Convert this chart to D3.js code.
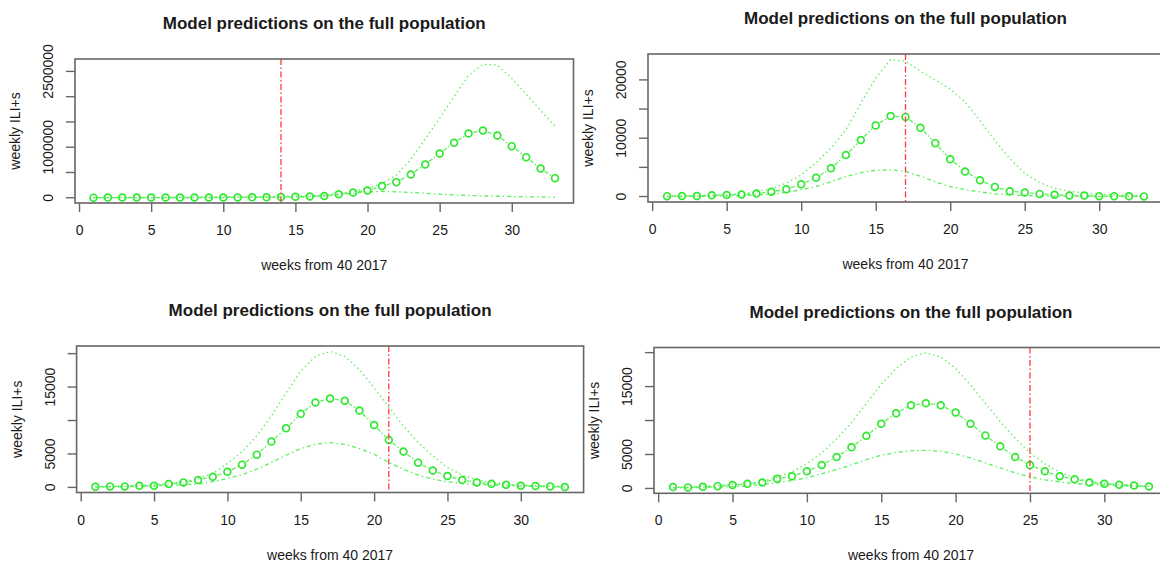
<!DOCTYPE html>
<html>
<head>
<meta charset="utf-8">
<script src="https://cdn.jsdelivr.net/npm/d3@7"></script>
<style>
  body { margin: 0; background: #fff; }
  text { font-family: "Liberation Sans", Arial, sans-serif; fill: #1a1a1a; }
</style>
</head>
<body>
<svg id="chart" width="1160" height="564"></svg>
<script>
'use strict';

// weeks counted from week 40 of 2017
const weeks = [1, 2, 3, 4, 5, 6, 7, 8, 9, 10, 11, 12, 13, 14, 15, 16, 17,
               18, 19, 20, 21, 22, 23, 24, 25, 26, 27, 28, 29, 30, 31, 32, 33];
const xTicks = [0, 5, 10, 15, 20, 25, 30];
const cutWeeks = [14, 17, 21, 25];

const titleText = "Model predictions on the full population";
const xLabelText = "weeks from 40 2017";
const yLabelText = "weekly ILI+s";

// panel 1 (top left)
const p1Mean = [2000, 2500, 3000, 3000, 3500, 4000, 4500, 5000, 5500, 6000, 7000, 8000, 10000, 13000, 20000, 24000, 33000,
                70000, 105000, 144000, 230000, 309000, 461000, 659000, 876000, 1088000, 1272000, 1332000, 1233000, 1021000, 803000, 580000, 388000];
const p1Upper = [4000, 5000, 6000, 7000, 8000, 9000, 10000, 12000, 13000, 15000, 17000, 20000, 23000, 27000, 32000, 38000, 52000,
                 80000, 120000, 190000, 280000, 450000, 760000, 1160000, 1575000, 2000000, 2420000, 2640000, 2625000, 2365000, 2050000, 1725000, 1417000];
const p1Lower = [1500, 2000, 2500, 2500, 3000, 3000, 3500, 4000, 4500, 5000, 6000, 7000, 9000, 11000, 15000, 22000, 35000,
                 60000, 90000, 115000, 125000, 118000, 105000, 88000, 70000, 55000, 45000, 37000, 30000, 24000, 19000, 15000, 12000];

// panel 2 (top right)
const p2Mean = [60, 80, 100, 200, 250, 350, 500, 800, 1250, 2100, 3200, 4850, 7100, 9700, 12200, 13800, 13650,
                11800, 9150, 6400, 4300, 2800, 1650, 900, 700, 450, 300, 170, 170, 60, 60, 30, 20];
const p2Upper = [50, 80, 120, 200, 300, 500, 800, 1400, 2300, 3700, 5800, 8300, 11400, 16000, 20300, 23500, 23200,
                 21500, 20000, 18400, 16200, 13000, 9600, 6500, 4000, 2400, 1400, 900, 600, 420, 300, 230, 170];
const p2Lower = [0, 0, 30, 50, 100, 150, 250, 400, 700, 1150, 1700, 2550, 3400, 4100, 4500, 4570, 4300,
                 3500, 2500, 1700, 1200, 800, 450, 300, 170, 100, 80, 60, 50, 40, 30, 20, 10];

// panel 3 (bottom left)
const p3Mean = [100, 150, 150, 250, 250, 500, 750, 1100, 1600, 2350, 3400, 4900, 6850, 8830, 11000, 12700, 13300,
                12950, 11500, 9330, 7100, 5360, 3700, 2530, 1690, 1100, 750, 550, 400, 250, 200, 150, 50];
const p3Upper = [100, 150, 200, 300, 400, 600, 850, 1340, 2080, 3570, 5300, 7700, 10660, 14130, 17360, 19590, 20330,
                 19590, 17600, 14880, 12050, 9170, 6700, 4710, 2980, 1840, 1140, 750, 500, 350, 250, 200, 150];
const p3Lower = [50, 80, 100, 150, 200, 300, 400, 500, 850, 1340, 1880, 2730, 3720, 4810, 5800, 6450, 6700,
                 6450, 5800, 4960, 3720, 2730, 1840, 1240, 850, 600, 450, 350, 250, 200, 150, 100, 50];

// panel 4 (bottom right)
const p4Mean = [200, 150, 250, 340, 490, 680, 880, 1420, 1800, 2540, 3460, 4640, 6050, 7760, 9520, 11080, 12250,
                12540, 12250, 11180, 9520, 7810, 6200, 4640, 3460, 2540, 1800, 1370, 880, 680, 540, 440, 290];
const p4Upper = [150, 200, 300, 400, 600, 680, 1070, 1660, 2440, 3660, 5220, 7270, 9710, 12540, 15320, 17670, 19370,
                 19960, 19370, 17670, 15230, 12540, 9860, 7420, 5220, 3610, 2390, 1610, 1070, 730, 540, 390, 290];
const p4Lower = [80, 100, 150, 200, 250, 350, 590, 830, 1170, 1560, 2150, 2780, 3460, 4250, 4880, 5320, 5560,
                 5610, 5470, 5080, 4490, 3760, 3030, 2290, 1710, 1270, 980, 730, 590, 490, 390, 340, 290];

const panelSeries = [
  {mean: p1Mean, upper: p1Upper, lower: p1Lower, cut: cutWeeks[0]},
  {mean: p2Mean, upper: p2Upper, lower: p2Lower, cut: cutWeeks[1]},
  {mean: p3Mean, upper: p3Upper, lower: p3Lower, cut: cutWeeks[2]},
  {mean: p4Mean, upper: p4Upper, lower: p4Lower, cut: cutWeeks[3]}
];

// plot regions (the right panels are cut by the image edge)
const frames = [
  {left: 75,   right: 573.5, top: 59,    bottom: 203},
  {left: 648,  right: 1163,  top: 54,    bottom: 202},
  {left: 76.6, right: 583.6, top: 346,   bottom: 492.5},
  {left: 654,  right: 1168,  top: 347.5, bottom: 493.3}
];

const GREEN_PT = "#2fe82f",
      GREEN_LN = "#5cf05c",
      RED = "#ff3b3b",
      BOX = "#666";

class ModelPanel{
  constructor(p){
    this._series = p.series;
    this._frame = p.frame;
  }

  init(parent){
    let f = this._frame, s = this._series;
    this._g = parent.append("g").attr("class", "panel");

    // R style 4% padding on both axes
    let xPad = (d3.max(weeks) - d3.min(weeks)) * 0.04;
    this._x = d3.scaleLinear()
      .domain([d3.min(weeks) - xPad, d3.max(weeks) + xPad])
      .range([f.left, f.right]);

    let all = s.mean.concat(s.upper, s.lower);
    let yMin = d3.min(all), yMax = d3.max(all), yPad = (yMax - yMin) * 0.04;
    this._y = d3.scaleLinear()
      .domain([yMin - yPad, yMax + yPad])
      .range([f.bottom, f.top]);

    this.drawAxes();
    this.drawSeries();
    this.drawFrame();
  }

  drawFrame(){
    let f = this._frame;
    this._g.append("rect")
      .attr("x", f.left).attr("y", f.top)
      .attr("width", f.right - f.left).attr("height", f.bottom - f.top)
      .attr("fill", "none").attr("stroke", BOX).attr("stroke-width", 1.6);
  }

  drawAxes(){
    let f = this._frame, x = this._x, y = this._y;

    let xAxis = this._g.append("g")
      .attr("transform", `translate(0,${f.bottom})`)
      .call(d3.axisBottom(x).tickValues(xTicks).tickSize(9).tickSizeOuter(0).tickPadding(4));
    xAxis.select(".domain").remove();
    xAxis.selectAll(".tick line").attr("stroke", BOX).attr("stroke-width", 1.4);
    xAxis.selectAll(".tick text")
      .attr("y", 32).attr("dy", null)
      .style("font-size", "14px").style("font-family", "Liberation Sans, Arial, sans-serif")
      .attr("fill", "#1a1a1a");

    // y axis: labels are parallel to the axis, R drops those that would collide
    let yTicks = y.ticks(5);
    let yAxis = this._g.append("g").attr("class", "yaxis");
    yAxis.selectAll("line").data(yTicks).join("line")
      .attr("x1", f.left - 9).attr("x2", f.left)
      .attr("y1", d => y(d)).attr("y2", d => y(d))
      .attr("stroke", BOX).attr("stroke-width", 1.4);

    let labels = yAxis.selectAll("text").data(yTicks).join("text")
      .attr("transform", d => `translate(${f.left - 22},${y(d)}) rotate(-90)`)
      .attr("text-anchor", "middle")
      .style("font-size", "14px")
      .text(d => d3.format("d")(d));

    let lastEdge = null, gap = 12;
    labels.each(function(d){
      let half = this.getComputedTextLength() / 2,
          c = y(d);
      if(lastEdge != null && c + half + gap > lastEdge){
        d3.select(this).remove();
      } else {
        lastEdge = c - half;
      }
    });

    // titles
    let cx = (f.left + f.right) / 2;
    this._g.append("text")
      .attr("x", cx).attr("y", f.top - 30)
      .attr("text-anchor", "middle")
      .style("font-size", "17px").style("font-weight", "bold")
      .text(titleText);

    this._g.append("text")
      .attr("x", cx).attr("y", f.bottom + 67)
      .attr("text-anchor", "middle")
      .style("font-size", "14px")
      .text(xLabelText);

    this._g.append("text")
      .attr("transform", `translate(${f.left - 55},${(f.top + f.bottom) / 2}) rotate(-90)`)
      .attr("text-anchor", "middle")
      .style("font-size", "14px")
      .text(yLabelText);
  }

  drawSeries(){
    let f = this._frame, s = this._series, x = this._x, y = this._y;
    let plot = this._g.append("g");

    let line = d3.line().x((d, i) => x(weeks[i])).y(d => y(d));

    plot.append("path").datum(s.upper)
      .attr("d", line)
      .attr("fill", "none").attr("stroke", GREEN_LN).attr("stroke-width", 1.3)
      .attr("stroke-dasharray", "1.5,3");

    plot.append("path").datum(s.lower)
      .attr("d", line)
      .attr("fill", "none").attr("stroke", GREEN_LN).attr("stroke-width", 1.3)
      .attr("stroke-dasharray", "4,3,1.5,3");

    // type "b": segments stop short of the circles
    let r = 3.4, cut = r + 1.5;
    let pts = s.mean.map((d, i) => [x(weeks[i]), y(d)]);
    let segs = d3.pairs(pts).map(([a, b]) => {
      let dx = b[0] - a[0], dy = b[1] - a[1], len = Math.hypot(dx, dy);
      if(len <= 2 * cut) return null;
      let ux = dx / len, uy = dy / len;
      return [a[0] + ux * cut, a[1] + uy * cut, b[0] - ux * cut, b[1] - uy * cut];
    }).filter(d => d != null);

    plot.selectAll("line.meanSeg").data(segs).join("line")
      .attr("class", "meanSeg")
      .attr("x1", d => d[0]).attr("y1", d => d[1])
      .attr("x2", d => d[2]).attr("y2", d => d[3])
      .attr("stroke", GREEN_LN).attr("stroke-width", 1.3)
      .attr("stroke-dasharray", "4,2,1.5,2");

    plot.selectAll("circle").data(s.mean).join("circle")
      .attr("cx", (d, i) => x(weeks[i])).attr("cy", d => y(d))
      .attr("r", r)
      .attr("fill", "none").attr("stroke", GREEN_PT).attr("stroke-width", 1.7);

    // week the prediction was made
    plot.append("line")
      .attr("x1", x(s.cut)).attr("x2", x(s.cut))
      .attr("y1", f.top).attr("y2", f.bottom)
      .attr("stroke", RED).attr("stroke-width", 1.3)
      .attr("stroke-dasharray", "6,2.5,1.5,2.5");
  }
}

let svg = d3.select("#chart");
svg.append("rect").attr("width", 1160).attr("height", 564).attr("fill", "#fff");

panelSeries.forEach((s, i) => {
  let panel = new ModelPanel({series: s, frame: frames[i]});
  panel.init(svg);
});
</script>
</body>
</html>
